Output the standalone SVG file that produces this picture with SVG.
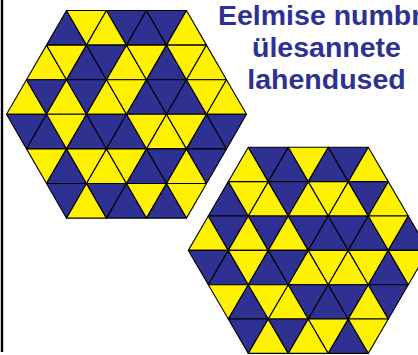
<svg xmlns="http://www.w3.org/2000/svg" xmlns:xlink="http://www.w3.org/1999/xlink" width="418" height="355" viewBox="0 0 418 355">
  <style>
    .b { fill: #2E3192; }
    .y { fill: #FFF200; }
    .tri use { stroke: #000; stroke-width: 1.1; stroke-linejoin: round; }
    .title { font-family: "Liberation Sans", Arial, sans-serif; font-weight: bold; font-size: 28.5px; fill: #2E3192; }
  </style>
  <defs>
    <path id="u1" d="M0,0 L20,34.6 L-20,34.6 Z"/>
    <path id="d1" d="M-20,0 L20,0 L0,34.6 Z"/>
    <path id="u2" d="M0,0 L20,34.35 L-20,34.35 Z"/>
    <path id="d2" d="M-20,0 L20,0 L0,34.35 Z"/>
  </defs>
  <rect x="0.8" y="0" width="2.4" height="352" fill="#000"/>
  <g id="hexagon1" class="tri" transform="translate(126.5,10.5)">
    <use href="#u1" x="-60" y="0" class="b"/><use href="#d1" x="-40" y="0" class="y"/><use href="#u1" x="-20" y="0" class="y"/><use href="#d1" x="0" y="0" class="b"/><use href="#u1" x="20" y="0" class="b"/><use href="#d1" x="40" y="0" class="b"/><use href="#u1" x="60" y="0" class="y"/>
    <use href="#u1" x="-80" y="34.6" class="y"/><use href="#d1" x="-60" y="34.6" class="y"/><use href="#u1" x="-40" y="34.6" class="b"/><use href="#d1" x="-20" y="34.6" class="b"/><use href="#u1" x="0" y="34.6" class="y"/><use href="#d1" x="20" y="34.6" class="y"/><use href="#u1" x="40" y="34.6" class="b"/><use href="#d1" x="60" y="34.6" class="y"/><use href="#u1" x="80" y="34.6" class="y"/>
    <use href="#u1" x="-100" y="69.2" class="y"/><use href="#d1" x="-80" y="69.2" class="b"/><use href="#u1" x="-60" y="69.2" class="y"/><use href="#d1" x="-40" y="69.2" class="b"/><use href="#u1" x="-20" y="69.2" class="y"/><use href="#d1" x="0" y="69.2" class="y"/><use href="#u1" x="20" y="69.2" class="b"/><use href="#d1" x="40" y="69.2" class="b"/><use href="#u1" x="60" y="69.2" class="b"/><use href="#d1" x="80" y="69.2" class="y"/><use href="#u1" x="100" y="69.2" class="y"/>
    <use href="#d1" x="-100" y="103.8" class="b"/><use href="#u1" x="-80" y="103.8" class="b"/><use href="#d1" x="-60" y="103.8" class="y"/><use href="#u1" x="-40" y="103.8" class="b"/><use href="#d1" x="-20" y="103.8" class="b"/><use href="#u1" x="0" y="103.8" class="b"/><use href="#d1" x="20" y="103.8" class="y"/><use href="#u1" x="40" y="103.8" class="y"/><use href="#d1" x="60" y="103.8" class="y"/><use href="#u1" x="80" y="103.8" class="b"/><use href="#d1" x="100" y="103.8" class="b"/>
    <use href="#d1" x="-80" y="138.4" class="y"/><use href="#u1" x="-60" y="138.4" class="b"/><use href="#d1" x="-40" y="138.4" class="y"/><use href="#u1" x="-20" y="138.4" class="y"/><use href="#d1" x="0" y="138.4" class="y"/><use href="#u1" x="20" y="138.4" class="b"/><use href="#d1" x="40" y="138.4" class="b"/><use href="#u1" x="60" y="138.4" class="y"/><use href="#d1" x="80" y="138.4" class="b"/>
    <use href="#d1" x="-60" y="173" class="b"/><use href="#u1" x="-40" y="173" class="y"/><use href="#d1" x="-20" y="173" class="b"/><use href="#u1" x="0" y="173" class="b"/><use href="#d1" x="20" y="173" class="y"/><use href="#u1" x="40" y="173" class="b"/><use href="#d1" x="60" y="173" class="y"/>
  </g>
  <g id="hexagon2" class="tri" transform="translate(308.3,147.3)">
    <use href="#u2" x="-60" y="0" class="y"/><use href="#d2" x="-40" y="0" class="b"/><use href="#u2" x="-20" y="0" class="b"/><use href="#d2" x="0" y="0" class="y"/><use href="#u2" x="20" y="0" class="b"/><use href="#d2" x="40" y="0" class="b"/><use href="#u2" x="60" y="0" class="y"/>
    <use href="#u2" x="-80" y="34.35" class="b"/><use href="#d2" x="-60" y="34.35" class="y"/><use href="#u2" x="-40" y="34.35" class="y"/><use href="#d2" x="-20" y="34.35" class="b"/><use href="#u2" x="0" y="34.35" class="y"/><use href="#d2" x="20" y="34.35" class="y"/><use href="#u2" x="40" y="34.35" class="y"/><use href="#d2" x="60" y="34.35" class="b"/><use href="#u2" x="80" y="34.35" class="y"/>
    <use href="#u2" x="-100" y="68.7" class="y"/><use href="#d2" x="-80" y="68.7" class="b"/><use href="#u2" x="-60" y="68.7" class="y"/><use href="#d2" x="-40" y="68.7" class="b"/><use href="#u2" x="-20" y="68.7" class="y"/><use href="#d2" x="0" y="68.7" class="b"/><use href="#u2" x="20" y="68.7" class="b"/><use href="#d2" x="40" y="68.7" class="b"/><use href="#u2" x="60" y="68.7" class="b"/><use href="#d2" x="80" y="68.7" class="y"/><use href="#u2" x="100" y="68.7" class="b"/>
    <use href="#d2" x="-100" y="103.05" class="b"/><use href="#u2" x="-80" y="103.05" class="b"/><use href="#d2" x="-60" y="103.05" class="y"/><use href="#u2" x="-40" y="103.05" class="b"/><use href="#d2" x="-20" y="103.05" class="b"/><use href="#u2" x="0" y="103.05" class="y"/><use href="#d2" x="20" y="103.05" class="y"/><use href="#u2" x="40" y="103.05" class="y"/><use href="#d2" x="60" y="103.05" class="y"/><use href="#u2" x="80" y="103.05" class="b"/><use href="#d2" x="100" y="103.05" class="y"/>
    <use href="#d2" x="-80" y="137.4" class="y"/><use href="#u2" x="-60" y="137.4" class="b"/><use href="#d2" x="-40" y="137.4" class="y"/><use href="#u2" x="-20" y="137.4" class="y"/><use href="#d2" x="0" y="137.4" class="b"/><use href="#u2" x="20" y="137.4" class="b"/><use href="#d2" x="40" y="137.4" class="b"/><use href="#u2" x="60" y="137.4" class="y"/><use href="#d2" x="80" y="137.4" class="b"/>
    <use href="#d2" x="-60" y="171.75" class="b"/><use href="#u2" x="-40" y="171.75" class="y"/><use href="#d2" x="-20" y="171.75" class="b"/><use href="#u2" x="0" y="171.75" class="y"/><use href="#d2" x="20" y="171.75" class="y"/><use href="#u2" x="40" y="171.75" class="b"/><use href="#d2" x="60" y="171.75" class="y"/>
  </g>
  <g id="title">
    <text class="title" x="218" y="24.5">Eelmise numbr</text>
    <text class="title" x="326.5" y="56.5" text-anchor="middle">ülesannete</text>
    <text class="title" x="326.5" y="88.5" text-anchor="middle">lahendused</text>
  </g>
</svg>
